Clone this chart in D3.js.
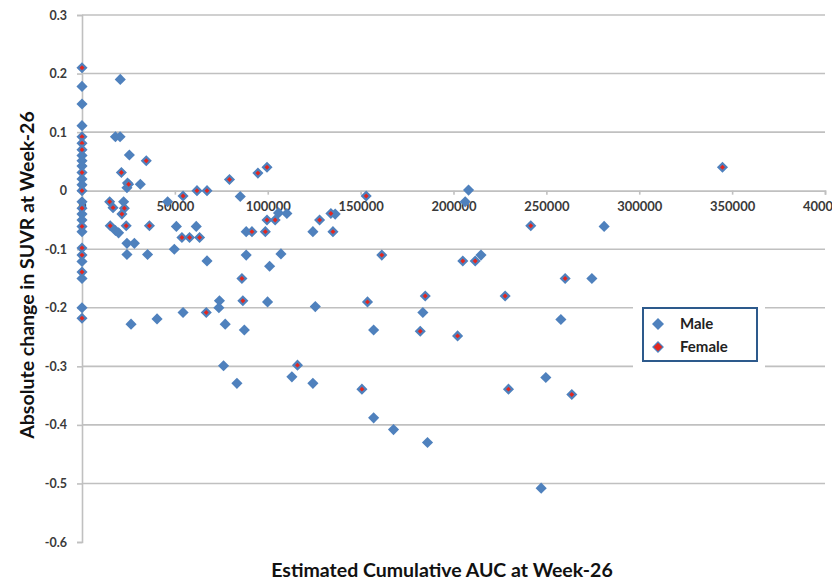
<!DOCTYPE html>
<html>
<head>
<meta charset="utf-8">
<script src="https://cdn.jsdelivr.net/npm/d3@7"></script>
<style>
  html, body { margin: 0; padding: 0; background: #fff; }
  svg { display: block; }
  text { font-family: Lato, "Open Sans", sans-serif; }
</style>
</head>
<body>
<svg id="chart" width="832" height="581"></svg>
<script>
// ---------------- data ----------------
const yTicks = [-0.6, -0.5, -0.4, -0.3, -0.2, -0.1, 0, 0.1, 0.2, 0.3];
const xTicks = [0, 50000, 100000, 150000, 200000, 250000, 300000, 350000, 400000];
const seriesNames = ["Male", "Female"];

const maleAUC = [
  0, 0, 0, 0, 0, 0, 0, 0, 0, 0, 0, 0, 0, 0, 0,
  20600, 18000, 20500, 25500, 31400, 24200, 24500,
  22400, 18000, 19700, 24200, 28200, 24200, 35300, 26400, 40400,
  46100, 50800, 61500, 49700, 85200, 88400, 110300, 105800, 124300, 136300,
  67300, 88400, 101000, 107100, 74000, 73700, 99900, 125600, 54400, 77100, 87400,
  208100, 206300, 214800, 183500,
  157000, 76200, 83400, 113000, 124300, 157000, 167700, 186000,
  281100, 274500, 257800, 249700, 247200
];
const maleSUVR = [
  0.178, 0.148, 0.111, 0.051, 0.042, 0.020, 0.010, -0.019, -0.04, -0.05, -0.07, -0.121, -0.15, -0.2, 0.06,
  0.19, 0.092, 0.092, 0.061, 0.011, 0.005, 0.013,
  -0.019, -0.068, -0.072, -0.09, -0.09, -0.109, -0.109, -0.228, -0.219,
  -0.019, -0.061, -0.061, -0.10, -0.01, -0.07, -0.039, -0.038, -0.07, -0.04,
  -0.12, -0.11, -0.129, -0.108, -0.188, -0.2, -0.19, -0.198, -0.208, -0.228, -0.238,
  0.001, -0.019, -0.11, -0.208,
  -0.238, -0.299, -0.329, -0.318, -0.329, -0.388, -0.408, -0.43,
  -0.061, -0.15, -0.22, -0.319, -0.508
];

const femaleAUC = [
  0, 0, 0, 0, 0, 0, 0, 0, 0, 0, 0, 0,
  34600, 21200, 25100, 14900, 16700, 22800, 21500, 15200, 23800, 36300,
  54400, 61900, 67300, 53800, 57900, 63300, 91500, 98700, 99600, 104000,
  127900, 134000, 135100, 86100, 86600, 66900, 79400, 94700, 99600,
  153000, 161400, 205000, 211700, 153700, 184800, 182100, 202200,
  116000, 150700, 344800, 241600, 260100, 227800, 229600, 263700
];
const femaleSUVR = [
  0.21, 0.092, 0.081, 0.070, 0.031, 0.0, -0.03, -0.061, -0.098, -0.11, -0.139, -0.218,
  0.051, 0.031, 0.011, -0.019, -0.029, -0.03, -0.04, -0.06, -0.06, -0.06,
  -0.009, 0.0, 0.0, -0.08, -0.08, -0.08, -0.07, -0.07, -0.05, -0.05,
  -0.05, -0.039, -0.07, -0.15, -0.188, -0.208, 0.019, 0.03, 0.04,
  -0.009, -0.11, -0.12, -0.12, -0.19, -0.18, -0.24, -0.248,
  -0.298, -0.339, 0.04, -0.06, -0.15, -0.18, -0.339, -0.348
];

// ---------------- drawing ----------------
const svg = d3.select("#chart");
const blue = "#4F81BD";
const red = "#E3261F";
const grid = "#C0C0C0";
const tickColor = "#3a3a3a";
const loc = d3.formatLocale({decimal: ".", thousands: "", grouping: [3], currency: ["", ""], minus: "-"});

const x = d3.scaleLinear().domain([0, 400000]).range([82, 825]);
const y = d3.scaleLinear().domain([-0.6, 0.3]).range([542, 15]);

// gridlines (no line at the bottom value)
svg.append("g").selectAll("line")
  .data(yTicks.filter(v => v !== -0.6 && v !== 0))
  .join("line")
  .attr("x1", x(0)).attr("x2", x(400000))
  .attr("y1", d => y(d)).attr("y2", d => y(d))
  .attr("stroke", grid).attr("stroke-width", 1.6);

// y axis
const yAxis = svg.append("g")
  .attr("transform", `translate(${x(0)},0)`)
  .call(d3.axisLeft(y).tickValues(yTicks).tickSize(5).tickPadding(10)
    .tickFormat(d => Math.abs(d) < 1e-9 ? "0" : loc.format(".1f")(d)));
yAxis.select(".domain").attr("stroke", grid).attr("stroke-width", 1.6);
yAxis.selectAll(".tick line").attr("stroke", grid).attr("stroke-width", 1.6);
yAxis.selectAll(".tick text").attr("fill", tickColor)
  .style("font-size", "12.5px").style("font-weight", "700");

// x axis at zero
const xAxis = svg.append("g")
  .attr("transform", `translate(0,${y(0)})`)
  .call(d3.axisBottom(x).tickValues(xTicks).tickSize(4).tickPadding(7)
    .tickFormat(loc.format("d")));
xAxis.select(".domain").attr("stroke", grid).attr("stroke-width", 1.6);
xAxis.selectAll(".tick line").attr("stroke", grid).attr("stroke-width", 1.6);
xAxis.selectAll(".tick text").attr("fill", tickColor)
  .style("font-size", "13px").style("font-weight", "700");

// legend background (breaks gridlines)
svg.append("rect").attr("x", 633).attr("y", 299).attr("width", 132).attr("height", 72)
  .attr("fill", "#fff");

// markers
const diamond = d3.symbol().type(d3.symbolSquare).size(62);
const maleData = maleAUC.map((v, i) => [v, maleSUVR[i]]);
const femaleData = femaleAUC.map((v, i) => [v, femaleSUVR[i]]);

svg.append("g").selectAll("path")
  .data(maleData).join("path")
  .attr("d", diamond)
  .attr("transform", d => `translate(${x(d[0])},${y(d[1])}) rotate(45)`)
  .attr("fill", blue);

svg.append("g").selectAll("path")
  .data(femaleData).join("path")
  .attr("d", d3.symbol().type(d3.symbolSquare).size(32))
  .attr("transform", d => `translate(${x(d[0])},${y(d[1])}) rotate(45)`)
  .attr("fill", red).attr("stroke", blue).attr("stroke-width", 2.2);

// legend
const lg = svg.append("g");
lg.append("rect").attr("x", 643).attr("y", 308).attr("width", 114).attr("height", 53)
  .attr("fill", "#fff").attr("stroke", "#2D5A8C").attr("stroke-width", 2);
seriesNames.forEach((name, i) => {
  const cy = 324 + i * 23;
  if (i === 0) {
    lg.append("path").attr("d", d3.symbol().type(d3.symbolSquare).size(72))
      .attr("transform", `translate(658,${cy}) rotate(45)`).attr("fill", blue);
  } else {
    lg.append("path").attr("d", d3.symbol().type(d3.symbolSquare).size(52))
      .attr("transform", `translate(658,${cy}) rotate(45)`)
      .attr("fill", red).attr("stroke", blue).attr("stroke-width", 1.2);
  }
  lg.append("text").attr("x", 680).attr("y", cy).attr("dy", "0.36em")
    .attr("fill", "#222").style("font-size", "15px").style("font-weight", "700")
    .text(name);
});

// axis titles
svg.append("text")
  .attr("transform", "translate(27,275) rotate(-90)")
  .attr("text-anchor", "middle").attr("dy", "0.36em")
  .attr("fill", "#111").style("font-size", "19.5px").style("font-weight", "700")
  .text("Absolute change in SUVR at Week-26");

svg.append("text")
  .attr("x", 442).attr("y", 570).attr("text-anchor", "middle").attr("dy", "0.36em")
  .attr("fill", "#111").style("font-size", "19.5px").style("font-weight", "700")
  .text("Estimated Cumulative AUC at Week-26");
</script>
</body>
</html>
